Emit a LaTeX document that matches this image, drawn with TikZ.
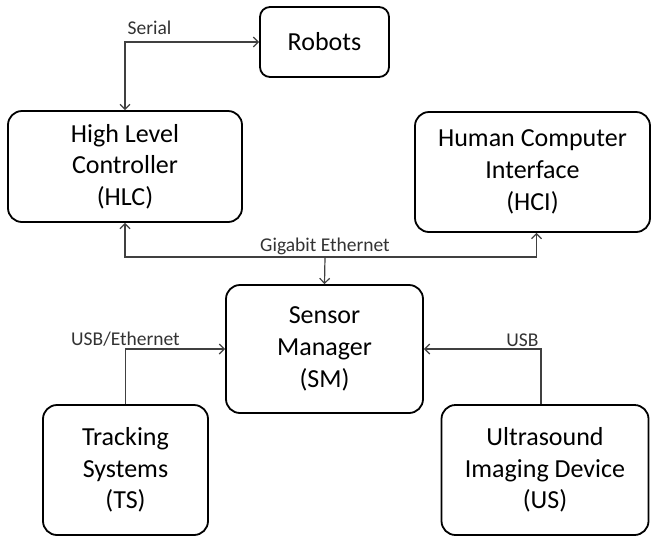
\documentclass[tikz,border=0pt]{standalone}
\usepackage{fontspec}
\setmainfont{Carlito}
\usetikzlibrary{arrows.meta}

\begin{document}
\begin{tikzpicture}[x=1pt, y=-1pt]
\tikzset{
    unit/.style= {rectangle, rounded corners=14pt, draw=black, line width=1.8pt, align=center, font=\fontsize{26}{31.7}\selectfont},
    link/.style= {draw=black!75, line width=1.2pt, >={Straight Barb[length=5pt,width=10pt]}},
    wire/.style= {font=\fontsize{19.5}{23}\selectfont, text=black!80, inner sep=2pt},
}
\useasboundingbox (0,0) rectangle (653,539);

\node[unit, minimum width=129pt, minimum height=70pt, rounded corners=10pt] (robots) at (324.5,42) {Robots};
\node[unit, minimum width=234pt, minimum height=111pt] (hlc) at (125,166.5) {High Level\\Controller\\(HLC)};
\node[unit, minimum width=235pt, minimum height=120pt] (hci) at (532.5,172) {Human Computer\\Interface\\(HCI)};
\node[unit, minimum width=197pt, minimum height=128pt] (sm) at (324.5,349) {Sensor\\Manager\\(SM)};
\node[unit, minimum width=165pt, minimum height=130pt] (ts) at (125.5,470) {Tracking\\Systems\\(TS)};
\node[unit, minimum width=207pt, minimum height=130pt] (us) at (545,470) {Ultrasound\\Imaging Device\\(US)};

\coordinate (bus) at (325,257);

\draw[link, <->] (hlc.north) |- (robots.west) node[wire, pos=0.5, above right, yshift=5pt] {Serial};
\draw[link, <->] (hlc.south) |- (bus) -| ([xshift=4pt]hci.south);
\draw[link, ->] (bus) -- (sm.north);
\node[wire, above] (gbe) at (bus) {Gigabit Ethernet};
\draw[link, ->] (ts.north) |- (sm.west) node[wire, pos=0.5, above] {USB/Ethernet};
\draw[link, ->] ([xshift=-4pt]us.north) |- (sm.east) node[wire, pos=0.5, above left] {USB};
\end{tikzpicture}
\end{document}
